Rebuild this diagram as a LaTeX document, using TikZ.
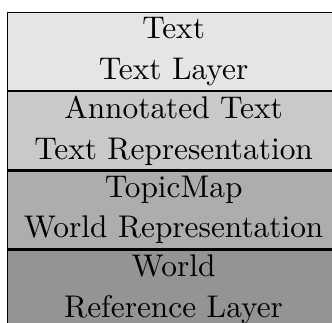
\documentclass[tikz,border=0pt]{standalone}
\usetikzlibrary{positioning}

\begin{document}
\begin{tikzpicture}[
    layer/.style={rectangle, draw, minimum width=110.67pt, minimum height=26pt,
                  inner sep=0pt, align=center, font=\fontsize{10.45}{13.5}\selectfont},
]

% page as in the reference (box runs off the right and bottom edge)
\clip (-2.33pt,4pt) rectangle (108.33pt,-103.33pt);

% Four stacked layers, lightest on top
\node[layer, fill=black!10, anchor=north west] (text) at (0,0) {Text\\Text Layer};
\node[layer, fill=black!21, below=0pt of text] (annotated) {Annotated Text\\Text Representation};
\node[layer, fill=black!32, below=0pt of annotated] (topicmap) {TopicMap\\World Representation};
\node[layer, fill=black!42, below=0pt of topicmap] (world) {World\\Reference Layer};

\end{tikzpicture}
\end{document}
